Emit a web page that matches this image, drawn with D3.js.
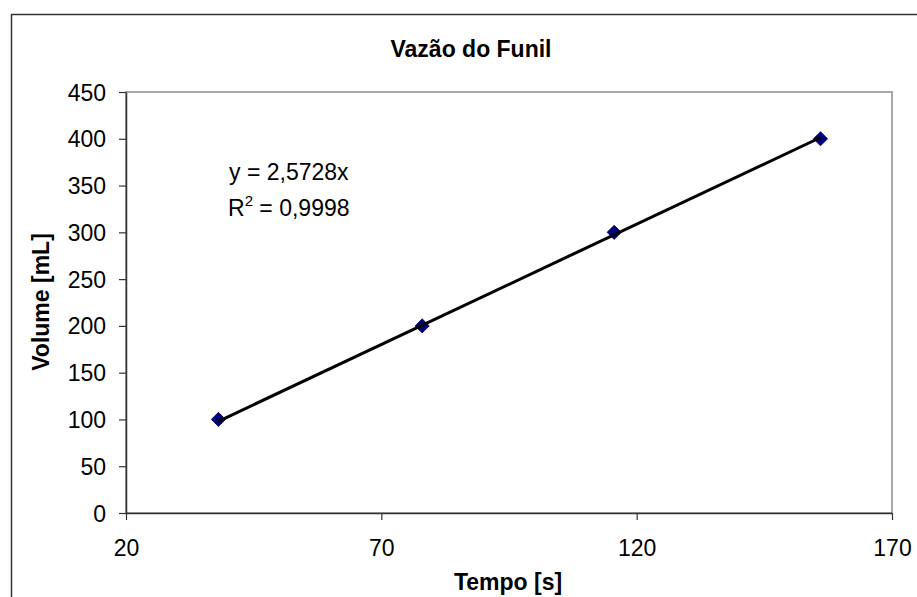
<!DOCTYPE html>
<html>
<head>
<meta charset="utf-8">
<script src="https://cdn.jsdelivr.net/npm/d3@7/dist/d3.min.js"></script>
<style>
  html, body { margin: 0; padding: 0; background: #fff; }
  svg { display: block; font-family: "Liberation Sans", Arial, sans-serif; }
</style>
</head>
<body>
<svg id="chart" width="917" height="597"></svg>
<script>
// Measurements: time (s) and collected volume (mL)
const tempo = [38.1, 78.0, 115.6, 156.0];
const volume = [100, 200, 300, 400];

// Linear fit through the origin
const slope = 2.5728;
const r2 = "0,9998";

const xTicks = [20, 70, 120, 170];
const yTicks = [0, 50, 100, 150, 200, 250, 300, 350, 400, 450];

const title = "Vazão do Funil";
const xTitle = "Tempo [s]";
const yTitle = "Volume [mL]";

const svg = d3.select("#chart");
const W = 917, H = 597;
const plot = { left: 126, top: 92, right: 892, bottom: 513 };

const x = d3.scaleLinear().domain([20, 170]).range([plot.left, plot.right]);
const y = d3.scaleLinear().domain([0, 450]).range([plot.bottom, plot.top]);

// Chart frame
svg.append("rect")
  .attr("x", 11.5).attr("y", 14.5)
  .attr("width", W + 20).attr("height", H + 20)
  .attr("fill", "#fff").attr("stroke", "#333").attr("stroke-width", 1.5);

// Plot area border
svg.append("rect")
  .attr("x", plot.left).attr("y", plot.top)
  .attr("width", plot.right - plot.left).attr("height", plot.bottom - plot.top)
  .attr("fill", "#fff").attr("stroke", "#8c8c8c").attr("stroke-width", 1.5);

// Axes
const xAxis = svg.append("g")
  .attr("transform", `translate(0,${plot.bottom})`)
  .call(d3.axisBottom(x).tickValues(xTicks).tickSizeInner(7).tickSizeOuter(0).tickPadding(20));
const yAxis = svg.append("g")
  .attr("transform", `translate(${plot.left},0)`)
  .call(d3.axisLeft(y).tickValues(yTicks).tickSizeInner(7).tickSizeOuter(0).tickPadding(13));

[xAxis, yAxis].forEach(g => {
  g.select(".domain").attr("stroke", "#333").attr("stroke-width", 1.5);
  g.selectAll(".tick line").attr("stroke", "#333").attr("stroke-width", 1.2);
  g.selectAll(".tick text")
    .attr("fill", "#000")
    .style("font-family", "'Liberation Sans', Arial, sans-serif")
    .style("font-size", "23px");
});
xAxis.selectAll(".tick text").attr("dy", "0.71em");
yAxis.selectAll(".tick text").attr("dy", "0.35em");

// Markers
const marker = d3.symbol().type(d3.symbolSquare).size(100);
svg.append("g").selectAll("path")
  .data(tempo.map((t, i) => [t, volume[i]]))
  .join("path")
  .attr("d", marker)
  .attr("transform", d => `translate(${x(d[0])},${y(d[1])}) rotate(45)`)
  .attr("fill", "#000080")
  .attr("stroke", "#000050")
  .attr("stroke-width", 0.8);

// Trendline
const x0 = d3.min(tempo), x1 = d3.max(tempo);
svg.append("line")
  .attr("x1", x(x0)).attr("y1", y(slope * x0))
  .attr("x2", x(x1)).attr("y2", y(slope * x1))
  .attr("stroke", "#000").attr("stroke-width", 3);

// Trendline equation
const eq = svg.append("g")
  .style("font-family", "'Liberation Sans', Arial, sans-serif")
  .style("font-size", "23px")
  .attr("fill", "#000");
eq.append("text").attr("x", 229).attr("y", 180)
  .text("y = " + slope.toString().replace(".", ",") + "x");
const r2t = eq.append("text").attr("x", 228).attr("y", 216);
r2t.append("tspan").text("R");
r2t.append("tspan").attr("dy", -10).style("font-size", "15px").text("2");
r2t.append("tspan").attr("dy", 10).text(" = " + r2);

// Titles
svg.append("text")
  .attr("x", 471).attr("y", 57).attr("text-anchor", "middle")
  .style("font-weight", "bold").style("font-size", "23px")
  .text(title);
svg.append("text")
  .attr("x", 508).attr("y", 590).attr("text-anchor", "middle")
  .style("font-weight", "bold").style("font-size", "23px")
  .text(xTitle);
svg.append("text")
  .attr("transform", `translate(49,302) rotate(-90)`)
  .attr("text-anchor", "middle")
  .style("font-weight", "bold").style("font-size", "23px")
  .text(yTitle);
</script>
</body>
</html>
